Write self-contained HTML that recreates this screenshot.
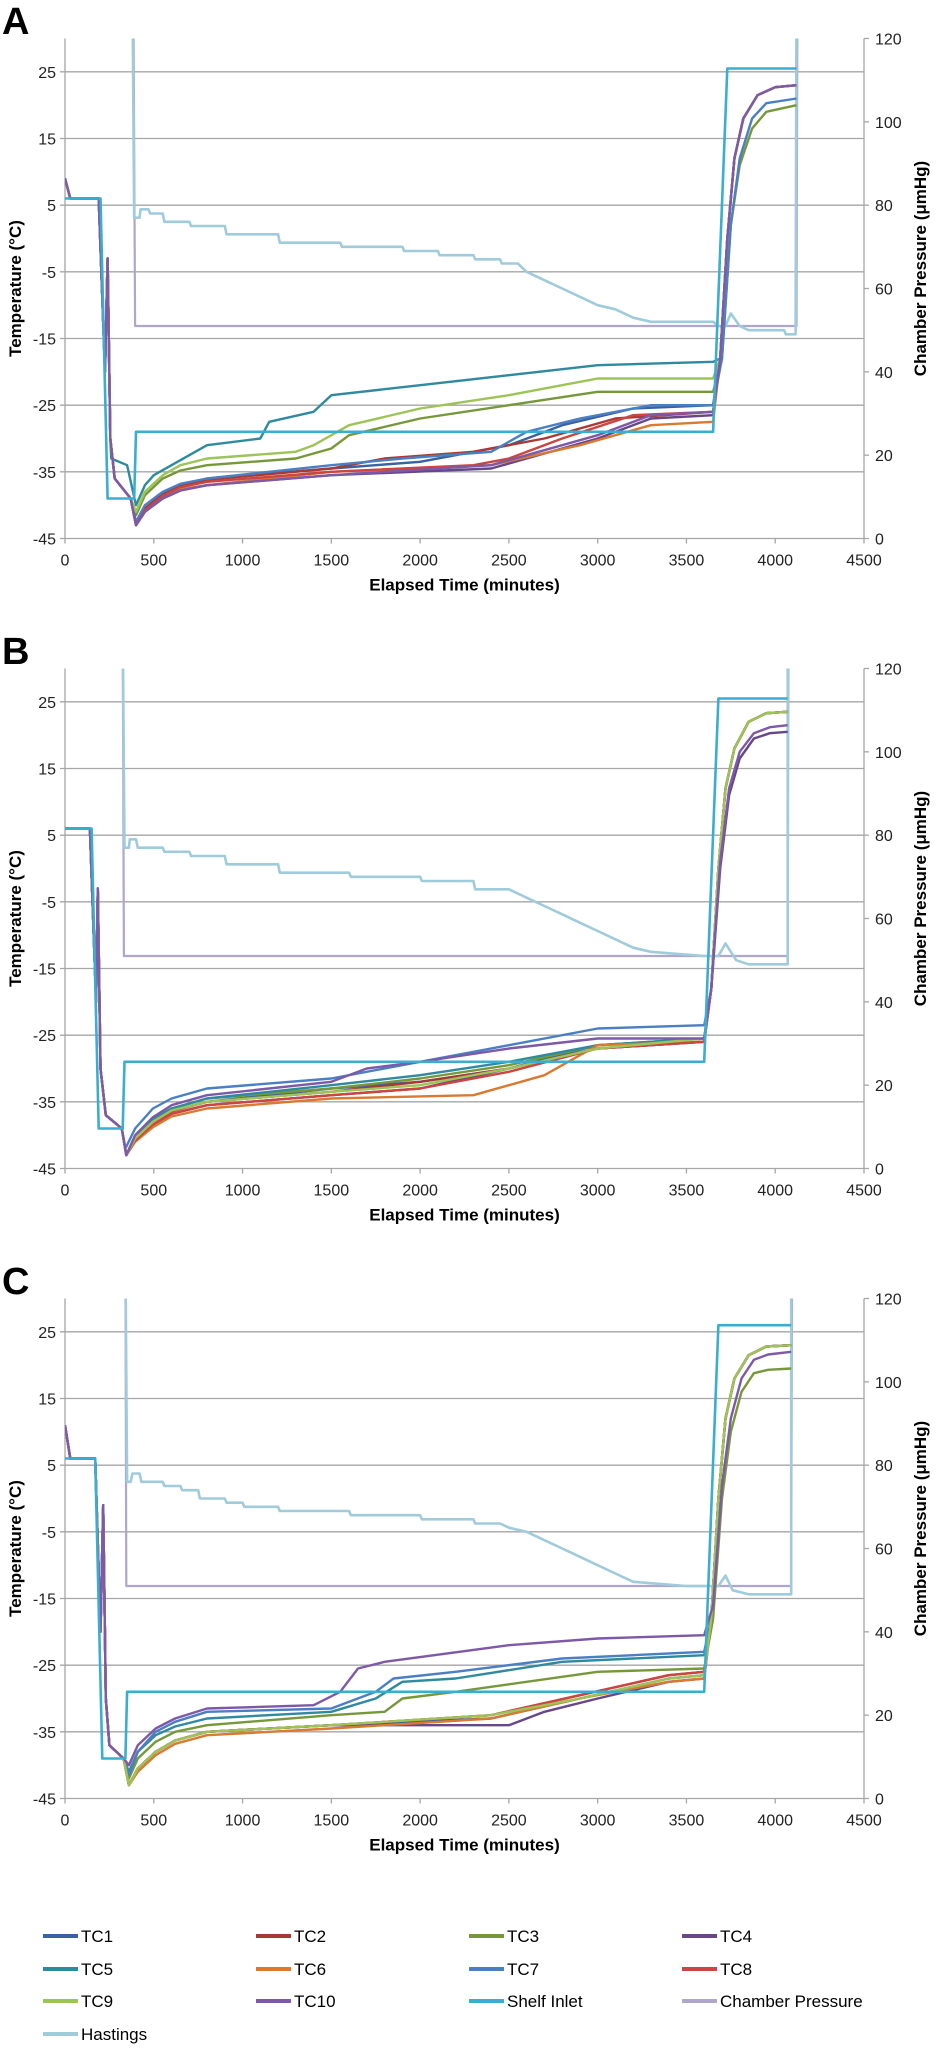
<!DOCTYPE html>
<html><head><meta charset="utf-8"><style>
body{margin:0;background:#fff}
svg{display:block;font-family:"Liberation Sans",sans-serif}
</style></head><body>
<svg id="fig" width="937" height="2054" viewBox="0 0 937 2054" xmlns="http://www.w3.org/2000/svg"></svg>
<script>
// ---- axis ticks ----
const xTicks = [0,500,1000,1500,2000,2500,3000,3500,4000,4500];
const tTicks = [25,15,5,-5,-15,-25,-35,-45];
const pTicks = [0,20,40,60,80,100,120];
const panelLabels = ["A","B","C"];
const seriesNames = ["TC1","TC2","TC3","TC4","TC5","TC6","TC7","TC8","TC9","TC10","Shelf Inlet","Chamber Pressure","Hastings"];
const seriesColors = ["#3a62a0","#a83a36","#77983a","#65478a","#2f8aa0","#d97a30","#4a7fc4","#cc4540","#9cc456","#7d59a8","#3aaed0","#b0a5cc","#9fcbdb"];

// ---- Panel A data [time, value] ----
const A_pre = [[0,9],[30,6],[190,6],[225,-20],[240,-3],[255,-30],[280,-36],[370,-39],[400,-43]];
const A_end = [[3690,-18],[3730,0],[3770,12],[3820,18],[3900,21.5],[4000,22.7],[4120,23]];
const A_TC1 = [[450,-40.5],[550,-38.3],[650,-37],[800,-36],[1500,-34.5],[2000,-33.5],[2500,-31],[2800,-28],[3200,-25.5],[3650,-25]];
const A_TC2 = [[450,-40.5],[550,-38.5],[650,-37.2],[800,-36.2],[1500,-34.5],[1800,-33],[2300,-32],[2700,-30],[3100,-27],[3650,-26]];
const A_TC3 = [[400,-41.5],[450,-38.5],[550,-36],[650,-34.8],[800,-34],[1300,-33],[1500,-31.5],[1600,-29.5],[2000,-27],[2500,-25],[3000,-23],[3650,-23],[3700,-18],[3750,2],[3800,11],[3870,16.5],[3950,19],[4120,20]];
const A_TC4 = [[450,-41],[550,-39],[650,-37.8],[800,-37],[1500,-35.5],[2400,-34.5],[2600,-33],[3000,-30],[3300,-27],[3650,-26.5]];
const A_TC5 = [[260,-33],[350,-34],[400,-40],[450,-37],[500,-35.5],[600,-34],[800,-31],[1100,-30],[1150,-27.5],[1400,-26],[1500,-23.5],[2000,-22],[2500,-20.5],[3000,-19],[3650,-18.5]];
const A_TC6 = [[450,-41],[550,-38.8],[650,-37.6],[800,-37],[1500,-35],[2400,-34],[2900,-31],[3300,-28],[3650,-27.5]];
const A_TC7 = [[400,-42.5],[450,-40],[550,-38],[650,-36.8],[800,-36],[1500,-34],[1900,-33],[2400,-32],[2600,-29],[2900,-27],[3300,-25],[3650,-25],[3700,-18],[3750,2],[3800,12],[3870,18],[3950,20.3],[4120,21]];
const A_TC8 = [[450,-40.8],[550,-38.6],[650,-37.3],[800,-36.5],[1500,-35],[2300,-34],[2500,-33],[2800,-30],[3200,-26.5],[3650,-26]];
const A_TC9 = [[400,-41],[450,-38],[550,-35.5],[650,-34],[800,-33],[1300,-32],[1400,-31],[1600,-28],[2000,-25.5],[2500,-23.5],[3000,-21],[3650,-21]];
const A_TC10 = [[450,-41],[550,-39],[650,-37.8],[800,-37],[1500,-35.5],[2400,-34],[2600,-32.5],[3000,-29.5],[3300,-26.5],[3650,-26]];
const A_shelf = [[0,6],[200,6],[240,-39],[390,-39],[400,-29],[3650,-29],[3730,25.5],[4120,25.5]];
const A_press = [[0,130],[385,130],[395,51],[4120,51],[4125,130]];
const A_hast = [[0,130],[380,130],[390,77],[420,77],[425,79],[470,79],[480,78],[550,78],[560,76],[700,76],[710,75],[900,75],[910,73],[1200,73],[1210,71],[1550,71],[1560,70],[1900,70],[1910,69],[2100,69],[2110,68],[2300,68],[2310,67],[2450,67],[2460,66],[2550,66],[2600,64],[2700,62],[2800,60],[2900,58],[3000,56],[3100,55],[3200,53],[3300,52],[3650,52],[3680,51],[3720,51],[3750,54],[3800,51],[3850,50],[4050,50],[4060,49],[4115,49],[4120,130]];

// ---- Panel B data ----
const B_pre = [[0,6],[20,6],[140,6],[175,-20],[185,-3],[200,-30],[230,-37],[320,-39],[345,-43]];
const B_end = [[3640,-18],[3680,0],[3720,12],[3770,18],[3850,22],[3950,23.3],[4070,23.5]];
const B_TC1 = [[395,-40.5],[495,-38],[600,-36.3],[800,-35],[1500,-33],[2000,-32],[2500,-30],[3000,-26.5],[3600,-25.5]];
const B_TC2 = [[395,-40.5],[495,-38],[600,-36.4],[800,-35],[1500,-33.5],[2000,-32],[2500,-30],[3000,-27],[3600,-26]];
const B_TC3 = [[395,-40.2],[495,-37.6],[600,-36],[800,-34.5],[1500,-33],[2000,-31.5],[2500,-29.5],[3000,-26.5],[3600,-25.5]];
const B_TC4 = [[395,-40.8],[495,-38.4],[600,-36.8],[800,-35.5],[1500,-34],[2000,-33],[2500,-30],[3000,-27],[3600,-26],[3640,-18],[3690,0],[3740,11],[3800,16.5],[3880,19.5],[3970,20.3],[4070,20.5]];
const B_TC5 = [[395,-40.2],[495,-37.6],[600,-36],[800,-34.5],[1500,-32.5],[2000,-31],[2500,-29],[3000,-26.5],[3600,-25.5]];
const B_TC6 = [[395,-41],[495,-38.8],[600,-37.2],[800,-36],[1500,-34.5],[2300,-34],[2700,-31],[3000,-26.5],[3600,-26]];
const B_TC7 = [[340,-42],[395,-39],[495,-36],[600,-34.5],[800,-33],[1500,-31.5],[2000,-29],[2500,-26.5],[3000,-24],[3600,-23.5]];
const B_TC8 = [[395,-40.8],[495,-38.4],[600,-36.8],[800,-35.5],[1500,-34],[2000,-33],[2500,-30.5],[3000,-27],[3600,-26]];
const B_TC9 = [[395,-40.5],[495,-38],[600,-36.3],[800,-35],[1500,-33.5],[2000,-32.5],[2500,-30],[3000,-27],[3600,-25.5]];
const B_TC10 = [[395,-40],[495,-37.3],[600,-35.5],[800,-34],[1500,-32],[1700,-30],[2000,-29],[2500,-27],[3000,-25.5],[3600,-25.5],[3640,-18],[3690,1],[3740,12],[3800,17.5],[3880,20.3],[3970,21.2],[4070,21.5]];
const B_shelf = [[0,6],[150,6],[190,-39],[325,-39],[335,-29],[3600,-29],[3680,25.5],[4070,25.5]];
const B_press = [[0,130],[325,130],[332,51],[4070,51],[4075,130]];
const B_hast = [[0,130],[325,130],[335,77],[360,77],[365,79],[400,79],[410,77],[550,77],[560,76],[700,76],[710,75],[900,75],[910,73],[1200,73],[1210,71],[1600,71],[1610,70],[2000,70],[2010,69],[2300,69],[2310,67],[2500,67],[2600,65],[2700,63],[2800,61],[2900,59],[3000,57],[3100,55],[3200,53],[3300,52],[3600,51],[3680,51],[3720,54],[3780,50],[3850,49],[4070,49],[4070,130]];

// ---- Panel C data ----
const C_pre = [[0,11],[30,6],[170,6],[200,-20],[215,-1],[230,-30],[250,-37],[330,-39],[360,-43]];
const C_end = [[3640,-18],[3680,0],[3720,12],[3770,18],[3850,21.5],[3950,22.8],[4090,23]];
const C_TC1 = [[410,-40.5],[510,-38],[620,-36.3],[800,-35],[1500,-34],[2400,-33],[2900,-30],[3400,-27],[3600,-26.5]];
const C_TC2 = [[410,-40.5],[510,-38],[620,-36.3],[800,-35],[1500,-34],[2400,-32.5],[2900,-29.5],[3400,-26.5],[3600,-26]];
const C_TC3 = [[360,-42],[410,-39],[510,-36.5],[620,-35],[800,-34],[1500,-32.5],[1800,-32],[1900,-30],[2200,-29],[3000,-26],[3600,-25.5],[3650,-18],[3700,0],[3750,10],[3810,16],[3880,18.8],[3960,19.3],[4090,19.5]];
const C_TC4 = [[410,-40.5],[510,-38],[620,-36.3],[800,-35],[1500,-34],[2500,-34],[2700,-32],[3000,-30],[3400,-27.5],[3600,-27]];
const C_TC5 = [[360,-41],[410,-38],[510,-35.5],[620,-34.2],[800,-33],[1500,-32],[1750,-30],[1900,-27.5],[2200,-27],[2800,-24.5],[3600,-23.5]];
const C_TC6 = [[410,-41],[510,-38.5],[620,-36.8],[800,-35.5],[1500,-34.5],[2400,-33],[2900,-30],[3400,-27.5],[3600,-27]];
const C_TC7 = [[360,-41.5],[410,-38],[510,-35],[620,-33.5],[800,-32],[1500,-31.5],[1750,-29],[1850,-27],[2200,-26],[2800,-24],[3600,-23]];
const C_TC8 = [[410,-40.5],[510,-38],[620,-36.3],[800,-35],[1500,-34],[2400,-32.5],[2900,-29.5],[3400,-26.5],[3600,-26]];
const C_TC9 = [[410,-40.5],[510,-38],[620,-36.3],[800,-35],[1500,-34],[2400,-32.5],[2900,-30],[3400,-27],[3600,-26.5]];
const C_TC10 = [[360,-40],[410,-37],[510,-34.5],[620,-33],[800,-31.5],[1400,-31],[1550,-29],[1650,-25.5],[1800,-24.5],[2500,-22],[3000,-21],[3600,-20.5],[3650,-16],[3700,2],[3750,12],[3810,18],[3880,20.8],[3960,21.6],[4090,22]];
const C_shelf = [[0,6],[170,6],[210,-39],[340,-39],[350,-29],[3600,-29],[3680,26],[4090,26]];
const C_press = [[0,130],[340,130],[345,51],[4090,51],[4095,130]];
const C_hast = [[0,130],[340,130],[350,76],[370,76],[380,78],[420,78],[430,76],[550,76],[560,75],[650,75],[660,74],[750,74],[760,72],[900,72],[910,71],[1000,71],[1010,70],[1200,70],[1210,69],[1600,69],[1610,68],[2000,68],[2010,67],[2300,67],[2310,66],[2450,66],[2500,65],[2600,64],[2700,62],[2800,60],[2900,58],[3000,56],[3100,54],[3200,52],[3500,51],[3600,51],[3680,51],[3720,53.5],[3760,50],[3850,49],[4090,49],[4090,130]];

const panels = [
  {pre:A_pre,end:A_end,tc:[A_TC1,A_TC2,A_TC3,A_TC4,A_TC5,A_TC6,A_TC7,A_TC8,A_TC9,A_TC10],shelf:A_shelf,press:A_press,hast:A_hast},
  {pre:B_pre,end:B_end,tc:[B_TC1,B_TC2,B_TC3,B_TC4,B_TC5,B_TC6,B_TC7,B_TC8,B_TC9,B_TC10],shelf:B_shelf,press:B_press,hast:B_hast},
  {pre:C_pre,end:C_end,tc:[C_TC1,C_TC2,C_TC3,C_TC4,C_TC5,C_TC6,C_TC7,C_TC8,C_TC9,C_TC10],shelf:C_shelf,press:C_press,hast:C_hast}
];

const NS="http://www.w3.org/2000/svg";
const svg=document.getElementById('fig');
const L=65,R=864,PH=500;
function xs(t){return L+t*(R-L)/4500;}
function yT(v,o){return o+38.5+PH-(v+45)*PH/75;}
function yP(p,o){return o+38.5+PH-p*PH/120;}
function mk(tag,attrs,parent){const e=document.createElementNS(NS,tag);for(const k in attrs)e.setAttribute(k,attrs[k]);(parent||svg).appendChild(e);return e;}

panels.forEach((pd,pi)=>{
  const o=pi*630;
  const g=mk('g',{});
  
  
  const cp=mk('clipPath',{id:'clip'+pi},g);
  mk('rect',{x:L,y:o+38.5,width:R-L,height:PH},cp);
  const lab=mk('text',{x:2,y:o+34,'font-size':38,'font-weight':'bold',fill:'#000'},g);
  lab.textContent=panelLabels[pi];
  
  
  tTicks.forEach(v=>{
    const y=yT(v,o);
    if(v>-45){const gl=mk('line',{x1:L-5,x2:R,y1:y,y2:y,stroke:'#a6a6a6','stroke-width':1.3},g);
      
      }
    const t=mk('text',{x:L-9,y:y+6,'font-size':16,'text-anchor':'end',fill:'#222'},g);
    t.textContent=v;
    
    
  });
  mk('line',{x1:L,x2:L,y1:o+38.5,y2:o+38.5+PH,stroke:'#a6a6a6','stroke-width':1.3},g);
  mk('line',{x1:L-5,x2:R,y1:o+38.5+PH,y2:o+38.5+PH,stroke:'#a6a6a6','stroke-width':1.3},g);
  mk('line',{x1:R,x2:R,y1:o+38.5,y2:o+38.5+PH,stroke:'#a6a6a6','stroke-width':1.3},g);
  xTicks.forEach(t=>{
    const x=xs(t);
    mk('line',{x1:x,x2:x,y1:o+38.5+PH,y2:o+38.5+PH+5,stroke:'#a6a6a6','stroke-width':1.3},g);
    const tx=mk('text',{x:x,y:o+38.5+PH+27,'font-size':16,'text-anchor':'middle',fill:'#222'},g);
    tx.textContent=t;
    
    
  });
  pTicks.forEach(p=>{
    const y=yP(p,o);
    mk('line',{x1:R,x2:R+5,y1:y,y2:y,stroke:'#a6a6a6','stroke-width':1.3},g);
    const tx=mk('text',{x:R+11,y:y+6,'font-size':16,fill:'#222'},g);
    tx.textContent=p;
    
    
  });
  const xt=mk('text',{x:(L+R)/2,y:o+38.5+PH+52,'font-size':17,'font-weight':'bold','text-anchor':'middle',fill:'#000'},g);
  xt.textContent='Elapsed Time (minutes)';
  
  
  const cy=o+38.5+PH/2;
  const yt=mk('text',{x:0,y:0,'font-size':17,'font-weight':'bold','text-anchor':'middle',fill:'#000',transform:`translate(21,${cy}) rotate(-90)`},g);
  yt.textContent='Temperature (°C)';
  
  
  const y2=mk('text',{x:0,y:0,'font-size':17,'font-weight':'bold','text-anchor':'middle',fill:'#000',transform:`translate(926,${cy-20}) rotate(-90)`},g);
  y2.textContent='Chamber Pressure (μmHg)';
  
  
  const sg=mk('g',{'clip-path':`url(#clip${pi})`},g);
  function line(pts,fy,color,w,name){
    const d=pts.map((p,i)=>(i?'L':'M')+xs(p[0]).toFixed(1)+','+fy(p[1],o).toFixed(1)).join('');
    const e=mk('path',{d:d,fill:'none',stroke:color,'stroke-width':w,'stroke-linejoin':'round'},sg);
    
    
  }
  line(pd.press,yP,seriesColors[11],2.2,'chamber-pressure-line');
  line(pd.hast,yP,seriesColors[12],2.6,'hastings-line');
  pd.tc.forEach((s,i)=>{
    let pts=pd.pre.slice();
    if(s[0][0]<=pd.pre[pd.pre.length-1][0]) pts=pts.filter(p=>p[0]<s[0][0]);
    pts=pts.concat(s);
    if(s[s.length-1][0]<pd.end[0][0]) pts=pts.concat(pd.end);
    line(pts,yT,seriesColors[i],2.4,seriesNames[i].toLowerCase()+'-line');
  });
  line(pd.shelf,yT,seriesColors[10],2.6,'shelf-inlet-line');
});

const lg=mk('g',{});


const colX=[43,256,469,682], rowY=[1942,1975,2007,2040];
seriesNames.forEach((n,i)=>{
  const x=colX[i%4], y=rowY[Math.floor(i/4)];
  const e=mk('g',{},lg);
  
  
  mk('line',{x1:x,x2:x+35,y1:y-6,y2:y-6,stroke:seriesColors[i],'stroke-width':4},e);
  const t=mk('text',{x:x+38,y:y,'font-size':17,fill:'#000'},e);
  t.textContent=n;
});
</script>
</body></html>
